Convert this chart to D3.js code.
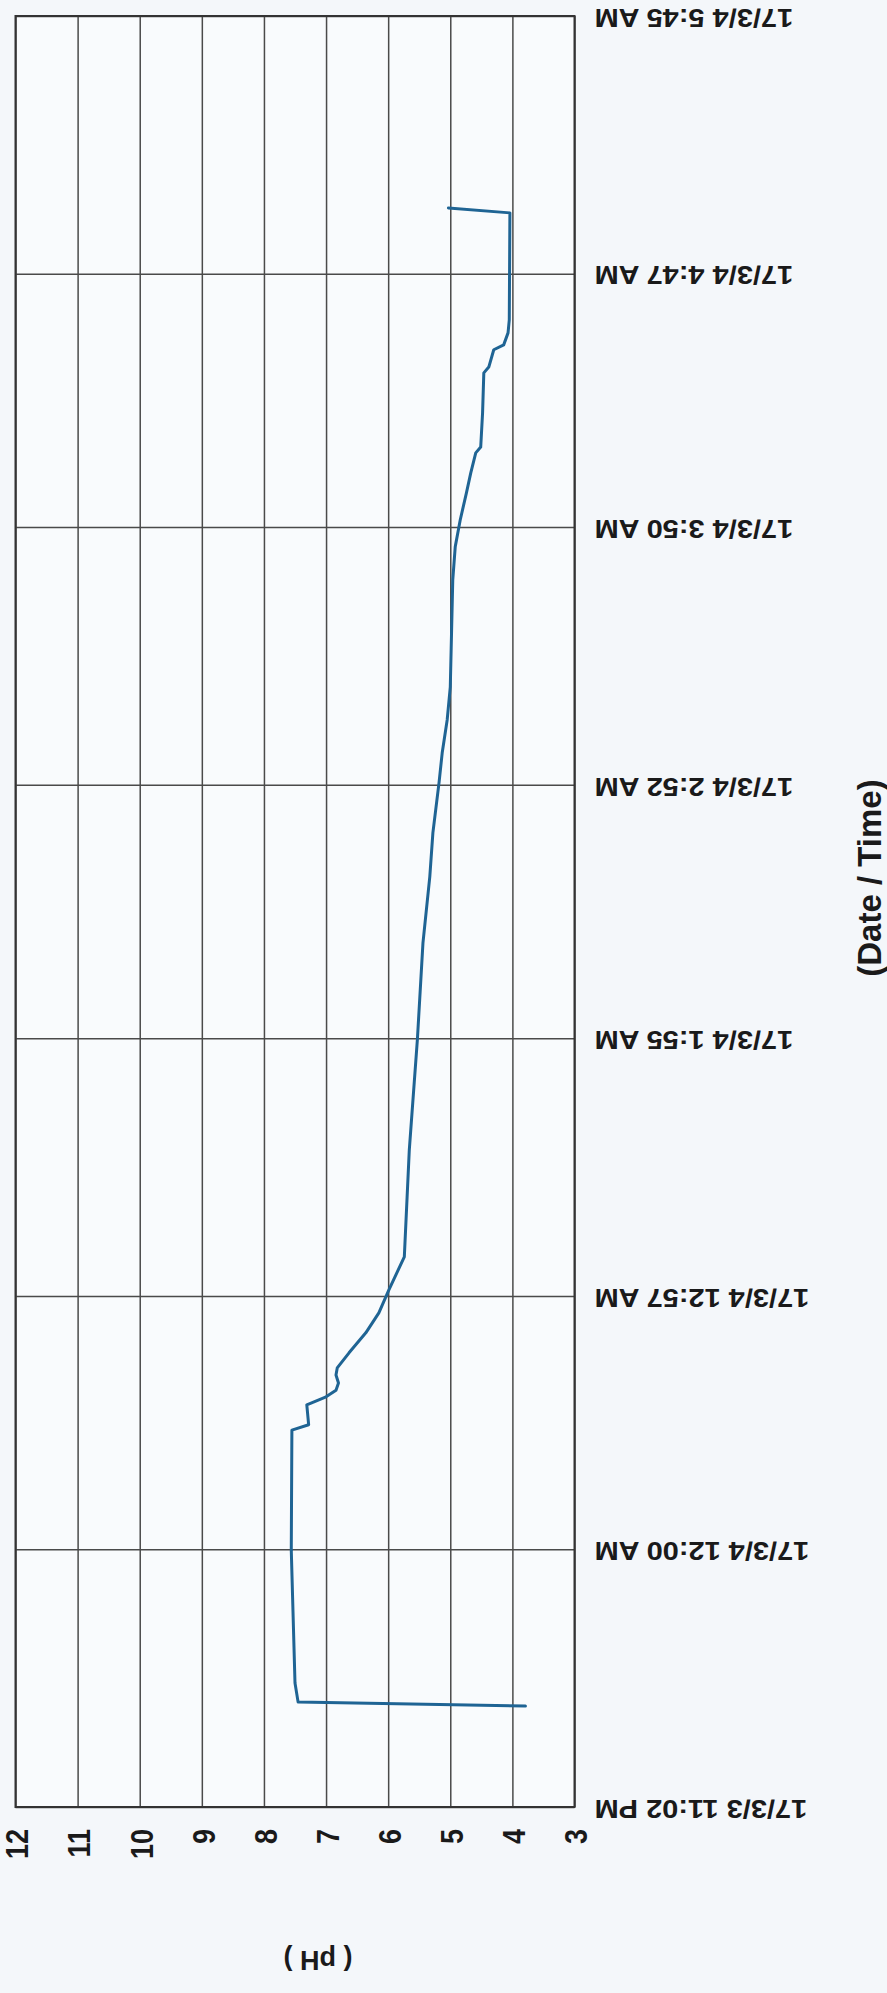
<!DOCTYPE html>
<html>
<head>
<meta charset="utf-8">
<script src="https://cdn.jsdelivr.net/npm/d3@7"></script>
<style>
    body { margin: 0; background: #f4f7fa; }
    svg { display: block; }
    .grid line { stroke: #4a4a4a; stroke-width: 1.5; }
    .grid text { font-family: "Liberation Sans", Arial, sans-serif; font-weight: bold; fill: #1a1a1a; }
    .title { font-family: "Liberation Sans", Arial, sans-serif; font-weight: bold; fill: #1a1a1a; }
</style>
</head>
<body>
<div id="chart"></div>
<script>

// pH axis ticks
const phTicks = [12, 11, 10, 9, 8, 7, 6, 5, 4, 3];

// date/time axis ticks (minutes after 17/3/3 11:02 PM) and labels
const timeTicks = [0, 58, 115, 173, 230, 288, 345, 403];
const timeLabels = [
    "17/3/3 11:02 PM",
    "17/3/4 12:00 AM",
    "17/3/4 12:57 AM",
    "17/3/4 1:55 AM",
    "17/3/4 2:52 AM",
    "17/3/4 3:50 AM",
    "17/3/4 4:47 AM",
    "17/3/4 5:45 AM"
];

// readings: minutes after start, pH
const readingMinutes = [22.7, 23.6, 27.9, 57.8, 84.8, 86.0, 90.5, 92.3, 93.8, 95.4, 97.2, 98.8,
    102.2, 106.7, 111.2, 116.3, 123.8, 147.8, 172.6, 194.4, 209.3, 219.2, 230.6, 237.2, 244.6,
    252.0, 276.1, 283.6, 289.6, 295.7, 300.2, 304.7, 306.0, 313.7, 322.7, 324.0, 327.9, 329.0,
    331.7, 334.6, 358.7, 359.8];
const readingPh = [3.79, 7.45, 7.50, 7.56, 7.55, 7.28, 7.31, 7.00, 6.84, 6.80, 6.84, 6.82,
    6.63, 6.36, 6.15, 5.99, 5.74, 5.66, 5.53, 5.44, 5.33, 5.28, 5.18, 5.13, 5.05,
    5.00, 4.96, 4.92, 4.84, 4.74, 4.67, 4.59, 4.51, 4.48, 4.46, 4.38, 4.30, 4.14,
    4.07, 4.05, 4.04, 5.03];

const startTime = new Date(2017, 2, 3, 23, 2);
const atMinute = m => new Date(startTime.getTime() + m * 60000);

class phChart {

    constructor(opts) {
        this.element = opts.element;
        this.width = 887;
        this.height = 1993;
        this.plot = { left: 15.5, right: 574.5, top: 16, bottom: 1807 };
        this.data = readingMinutes.map((m, i) => ({ time: atMinute(m), ph: readingPh[i] }));
        this._setScales();
        this.draw();
    }

    _setScales() {
        // the chart is rotated: pH runs left to right, time runs bottom to top
        this.xScale = d3.scaleLinear()
            .domain([12, 3])
            .range([this.plot.left, this.plot.right]);

        this.yScale = d3.scaleTime()
            .domain([atMinute(0), atMinute(403)])
            .range([this.plot.bottom, this.plot.top]);
    }

    draw() {
        const p = this.plot;

        this.svg = d3.select(this.element).append("svg")
            .attr("width", this.width)
            .attr("height", this.height);

        this.svg.append("rect")
            .attr("x", p.left)
            .attr("y", p.top)
            .attr("width", p.right - p.left)
            .attr("height", p.bottom - p.top)
            .attr("fill", "#f9fbfd");

        // pH gridlines and labels
        const phAxis = d3.axisBottom(this.xScale)
            .tickValues(phTicks)
            .tickFormat(d3.format("d"))
            .tickSize(-(p.bottom - p.top));

        const gx = this.svg.append("g")
            .attr("class", "grid")
            .attr("transform", `translate(0,${p.bottom})`)
            .call(phAxis);
        gx.select(".domain").remove();
        gx.selectAll("text")
            .attr("x", 0)
            .attr("y", 0)
            .attr("dy", null)
            .attr("text-anchor", "end")
            .attr("dominant-baseline", "central")
            .attr("font-size", 27)
            .attr("transform", "translate(1,22) scale(1.17,1) rotate(-90)");

        // date/time gridlines and labels
        const timeAxis = d3.axisRight(this.yScale)
            .tickValues(timeTicks.map(atMinute))
            .tickFormat((d, i) => timeLabels[i])
            .tickSize(-(p.right - p.left));

        const gy = this.svg.append("g")
            .attr("class", "grid")
            .attr("transform", `translate(${p.right},0)`)
            .call(timeAxis);
        gy.select(".domain").remove();
        gy.selectAll("text")
            .attr("x", 0)
            .attr("y", 0)
            .attr("dy", null)
            .attr("text-anchor", "end")
            .attr("dominant-baseline", "central")
            .attr("font-size", 25)
            .attr("transform", "translate(20,1) scale(1.16,1) rotate(180)");

        this.svg.append("rect")
            .attr("x", p.left)
            .attr("y", p.top)
            .attr("width", p.right - p.left)
            .attr("height", p.bottom - p.top)
            .attr("fill", "none")
            .attr("stroke", "#333")
            .attr("stroke-width", 2);

        const line = d3.line()
            .x(d => this.xScale(d.ph))
            .y(d => this.yScale(d.time));

        this.svg.append("path")
            .datum(this.data)
            .attr("d", line)
            .attr("fill", "none")
            .attr("stroke", "#1f6494")
            .attr("stroke-width", 3)
            .attr("stroke-linejoin", "round")
            .attr("stroke-linecap", "round");

        // axis titles
        this.svg.append("text")
            .attr("class", "title")
            .attr("text-anchor", "middle")
            .attr("dominant-baseline", "central")
            .attr("font-size", 27)
            .attr("transform", "translate(318,1960) rotate(180)")
            .text("( pH )");

        this.svg.append("text")
            .attr("class", "title")
            .attr("text-anchor", "middle")
            .attr("dominant-baseline", "central")
            .attr("font-size", 33)
            .attr("transform", "translate(869,878) rotate(-90)")
            .text("(Date / Time)");
    }
}

new phChart({ element: document.getElementById("chart") });

</script>
</body>
</html>
